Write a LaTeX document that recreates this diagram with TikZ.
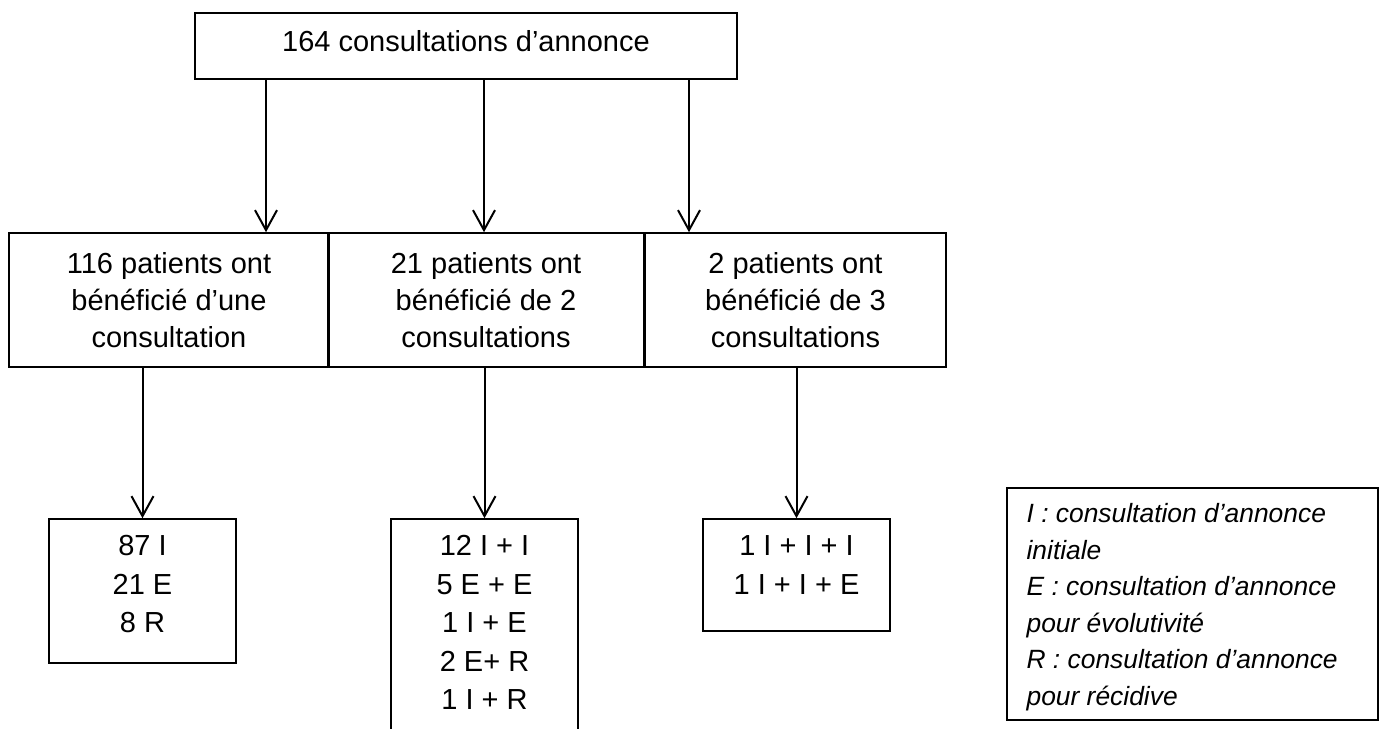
\documentclass[tikz,border=0pt]{standalone}
\usepackage{fontspec}
\setmainfont{Liberation Sans}
\usetikzlibrary{arrows.meta,positioning}

\begin{document}
\begin{tikzpicture}[>={Straight Barb[length=10pt,width=11pt]},x=0.5pt,y=-0.5pt,
  box/.style={draw,line width=0.8pt,inner sep=0pt},
  big/.style={font=\fontsize{14.5pt}{18.5pt}\selectfont,align=center},
  small/.style={font=\fontsize{14.5pt}{19.25pt}\selectfont,align=center,inner sep=0pt},
  leg/.style={font=\fontsize{13.2pt}{18.25pt}\selectfont\itshape,align=left,inner sep=0pt},
  arr/.style={->,line width=1pt}]

\useasboundingbox (0,0) rectangle (1383,729);

\node(top) at (466,46)[box,big,text depth=4.6pt,minimum width=271pt,minimum height=33pt] {164 consultations d’annonce};

\node(m1) at (169,300)[box,big,minimum width=160pt,minimum height=67pt] {116 patients ont\\ bénéficié d’une\\ consultation};
\node(m2) at (486,300)[box,big,minimum width=158pt,minimum height=67pt] {21 patients ont\\ bénéficié de 2\\ consultations};
\node(m3) at (795.5,300)[box,big,minimum width=150.5pt,minimum height=67pt] {2 patients ont\\ bénéficié de 3\\ consultations};

\node(ra) at (142.5,591)[box,minimum width=93.5pt,minimum height=72pt] {};
\node(rb) at (484.5,627)[box,minimum width=93.5pt,minimum height=108pt] {};
\node(rc) at (796.5,575)[box,minimum width=93.5pt,minimum height=56pt] {};
\node(ta)[small,below=8.5pt of ra.north] {87 I\\ 21 E\\ 8 R};
\node(tb)[small,below=8.5pt of rb.north] {12 I + I\\ 5 E + E\\ 1 I + E\\ 2 E+ R\\ 1 I + R};
\node(tc)[small,below=8.5pt of rc.north] {1 I + I + I\\ 1 I + I + E};

\node(lg) at (1192.5,604)[box,minimum width=185.5pt,minimum height=116pt] {};
\node(lgt)[leg,below right=7.9pt and 10pt of lg.north west] {I : consultation d’annonce\\ initiale\\ E : consultation d’annonce\\ pour évolutivité\\ R : consultation d’annonce\\ pour récidive};

\foreach \n/\s in {1/-100pt,2/9pt,3/111.5pt}{
  \coordinate (t\n) at ([xshift=\s]top.south);
  \draw[arr] (t\n) -- (t\n |- m\n.north);
}
\foreach \a/\b in {m1/ra,m2/rb,m3/rc}
  \draw[arr] (\b.north |- \a.south) -- (\b.north);

\end{tikzpicture}
\end{document}
